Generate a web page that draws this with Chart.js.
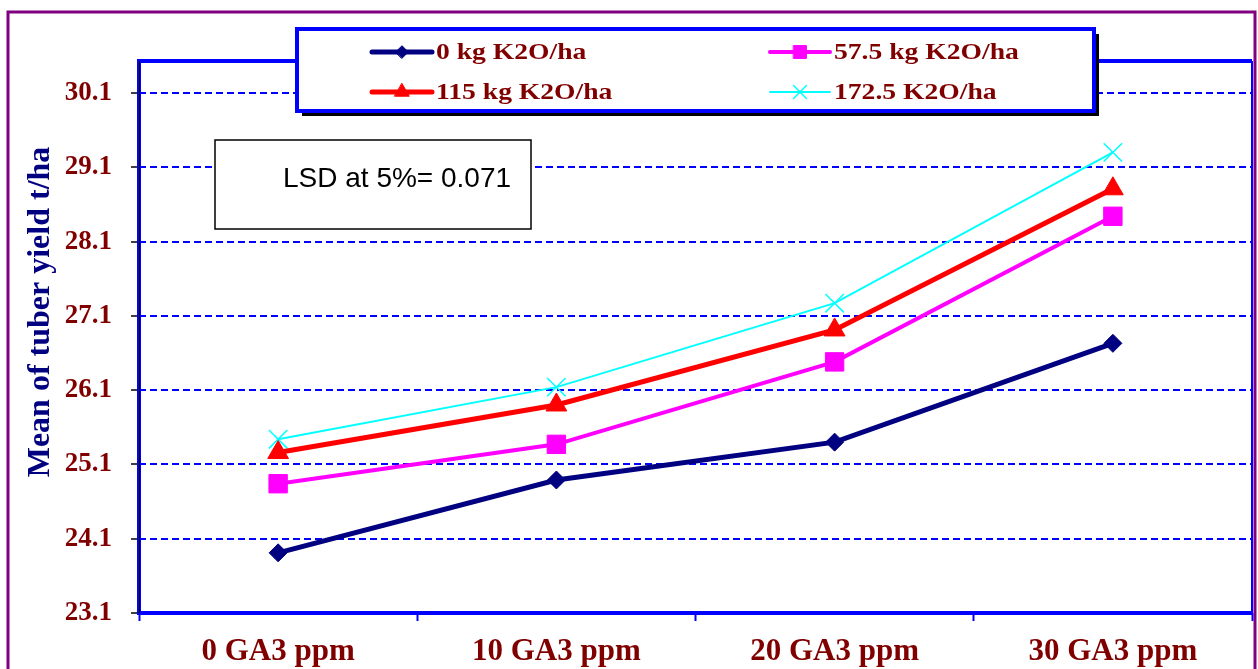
<!DOCTYPE html>
<html>
<head>
<meta charset="utf-8">
<script src="https://cdn.jsdelivr.net/npm/chart.js@4/dist/chart.umd.min.js"></script>
<style>
  body { margin: 0; background: #fff; }
  canvas { display: block; }
</style>
</head>
<body>
<canvas id="yieldChart" width="1258" height="669"></canvas>
<script>
var categories = ['0 GA3 ppm', '10 GA3 ppm', '20 GA3 ppm', '30 GA3 ppm'];
var seriesNames = ['0 kg K2O/ha', '57.5 kg K2O/ha', '115 kg K2O/ha', '172.5 K2O/ha'];
var k0 = [23.91, 24.89, 25.40, 26.73];
var k57 = [24.84, 25.37, 26.48, 28.44];
var k115 = [25.26, 25.90, 26.91, 28.81];
var k172 = [25.44, 26.14, 27.27, 29.30];
var yTicks = [23.1, 24.1, 25.1, 26.1, 27.1, 28.1, 29.1, 30.1];
var yTitle = 'Mean of tuber yield t/ha';
var lsdText = 'LSD at 5%= 0.071';

var serif = '"Liberation Serif", "Times New Roman", serif';
var darkRed = '#800000';
var blue = '#0000ff';

// frame, legend box, LSD note, axis title and outer border
var decorations = {
  id: 'decorations',
  afterDraw: function(chart) {
    var ctx = chart.ctx;
    var a = chart.chartArea;
    ctx.save();

    // plot frame
    ctx.strokeStyle = blue;
    ctx.lineWidth = 4;
    ctx.beginPath();
    ctx.moveTo(a.right, a.top);
    ctx.lineTo(a.left, a.top);
    ctx.lineTo(a.left, a.bottom);
    ctx.lineTo(a.right, a.bottom);
    ctx.stroke();
    ctx.lineWidth = 2;
    ctx.beginPath();
    ctx.moveTo(a.right, a.top);
    ctx.lineTo(a.right, a.bottom);
    ctx.stroke();
    ctx.strokeStyle = '#000';
    ctx.lineWidth = 1;
    ctx.beginPath();
    ctx.moveTo(a.left + 0.5, a.top);
    ctx.lineTo(a.left + 0.5, a.bottom);
    ctx.stroke();

    // legend box with shadow
    var lx = 297, ly = 29, lw = 797, lh = 82;
    ctx.fillStyle = '#000';
    ctx.fillRect(lx + 5, ly + 5, lw, lh);
    ctx.fillStyle = '#fff';
    ctx.fillRect(lx, ly, lw, lh);
    ctx.strokeStyle = blue;
    ctx.lineWidth = 4;
    ctx.strokeRect(lx, ly, lw, lh);

    var cols = [372, 770];
    var rows = [52, 92];
    chart.data.datasets.forEach(function(ds, i) {
      var x = cols[i % 2], y = rows[Math.floor(i / 2)];
      ctx.strokeStyle = ds.borderColor;
      ctx.lineWidth = ds.borderWidth;
      ctx.lineCap = 'round';
      ctx.beginPath();
      ctx.moveTo(x, y);
      ctx.lineTo(x + 60, y);
      ctx.stroke();
      ctx.fillStyle = ds.backgroundColor;
      ctx.strokeStyle = ds.borderColor;
      ctx.lineWidth = ds.pointBorderWidth || 1;
      Chart.helpers.drawPoint(ctx, {
        pointStyle: ds.pointStyle,
        radius: ds.pointRadius * 0.7,
        rotation: 0,
        borderWidth: ds.pointBorderWidth || 1
      }, x + 30, y);
      ctx.save();
      ctx.translate(x + 64, y);
      ctx.scale(1.15, 1);
      ctx.fillStyle = darkRed;
      ctx.font = 'bold 24px ' + serif;
      ctx.textAlign = 'left';
      ctx.textBaseline = 'middle';
      ctx.fillText(ds.label, 0, 1);
      ctx.restore();
    });

    // LSD note
    ctx.fillStyle = '#fff';
    ctx.fillRect(215, 140, 316, 89);
    ctx.strokeStyle = '#000';
    ctx.lineWidth = 1.5;
    ctx.strokeRect(215, 140, 316, 89);
    ctx.fillStyle = '#000';
    ctx.font = '28px "Liberation Sans", Arial, sans-serif';
    ctx.textAlign = 'left';
    ctx.textBaseline = 'middle';
    ctx.fillText(lsdText, 283, 179);

    // y axis title
    ctx.save();
    ctx.translate(41, 312);
    ctx.rotate(-Math.PI / 2);
    ctx.fillStyle = '#000080';
    ctx.font = 'bold 32px ' + serif;
    ctx.textAlign = 'center';
    ctx.textBaseline = 'middle';
    ctx.fillText(yTitle, 0, 0);
    ctx.restore();

    // outer border
    ctx.strokeStyle = '#800080';
    ctx.lineWidth = 3;
    ctx.strokeRect(8, 12, 1247, 680);
    ctx.restore();
  }
};

var ctx = document.getElementById('yieldChart').getContext('2d');

var yieldChart = new Chart(ctx, {
  type: 'line',
  data: {
    labels: categories,
    datasets: [{
      label: seriesNames[0],
      data: k0,
      borderColor: '#000080',
      backgroundColor: '#000080',
      borderWidth: 5,
      pointStyle: 'rectRot',
      pointRadius: 9,
      pointBorderWidth: 1
    }, {
      label: seriesNames[1],
      data: k57,
      borderColor: '#ff00ff',
      backgroundColor: '#ff00ff',
      borderWidth: 4,
      pointStyle: 'rect',
      pointRadius: 13,
      pointBorderWidth: 1
    }, {
      label: seriesNames[2],
      data: k115,
      borderColor: '#ff0000',
      backgroundColor: '#ff0000',
      borderWidth: 5,
      pointStyle: 'triangle',
      pointRadius: 12,
      pointBorderWidth: 1
    }, {
      label: seriesNames[3],
      data: k172,
      borderColor: '#00ffff',
      backgroundColor: '#00ffff',
      borderWidth: 2,
      pointStyle: 'crossRot',
      pointRadius: 13,
      pointBorderWidth: 1.5
    }]
  },
  options: {
    responsive: false,
    animation: false,
    layout: { autoPadding: false, padding: { left: 0, right: 6, top: 61, bottom: 0 } },
    elements: { line: { tension: 0 } },
    plugins: {
      legend: { display: false },
      tooltip: { enabled: false }
    },
    scales: {
      x: {
        offset: true,
        afterFit: function(scale) {
          scale.height = 56;
          scale.paddingLeft = 0;
          scale.paddingRight = 0;
        },
        grid: {
          offset: true,
          drawOnChartArea: false,
          tickColor: blue,
          tickWidth: 2,
          tickLength: 8
        },
        border: { display: false },
        ticks: {
          color: darkRed,
          font: { family: serif, size: 31, weight: 'bold' },
          padding: 12,
          maxRotation: 0
        }
      },
      y: {
        min: 23.1,
        max: 30.53,
        afterFit: function(scale) { scale.width = 139; },
        afterBuildTicks: function(scale) {
          scale.ticks = yTicks.map(function(v) { return { value: v }; });
        },
        grid: {
          color: blue,
          lineWidth: 2,
          tickColor: '#000',
          tickWidth: 1.5,
          tickLength: 8,
          tickBorderDash: []
        },
        border: { display: false, dash: [7, 4] },
        ticks: {
          color: darkRed,
          font: { family: serif, size: 27, weight: 'bold' },
          padding: 19,
          callback: function(value) { return Number(value).toFixed(1); }
        }
      }
    }
  },
  plugins: [decorations]
});
</script>
</body>
</html>
